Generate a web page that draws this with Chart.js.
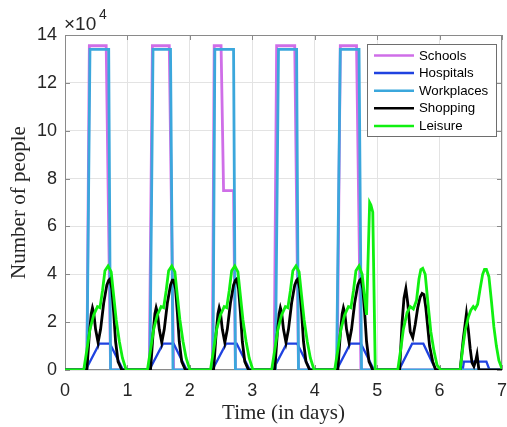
<!DOCTYPE html>
<html>
<head>
<meta charset="utf-8">
<script src="https://cdn.jsdelivr.net/npm/chart.js@4.4.1/dist/chart.umd.min.js"></script>
<style>
  body { margin: 0; background: #fff; }
  #wrap { width: 507px; height: 427px; }
</style>
</head>
<body>
<div id="wrap"><canvas id="chart" width="507" height="427"></canvas></div>
<script>
// time in days / number of people
const xTicks = [0, 1, 2, 3, 4, 5, 6, 7];
const yTicks = [0, 20000, 40000, 60000, 80000, 100000, 120000, 140000];

const schoolsT = [0, 0.35, 0.39, 0.66, 0.73,
  1.35, 1.40, 1.67, 1.74,
  2.36, 2.39, 2.50, 2.54, 2.70, 2.73,
  3.35, 3.39, 3.68, 3.74,
  4.36, 4.41, 4.67, 4.74, 7];
const schoolsN = [0, 0, 135500, 135500, 0,
  0, 135500, 135500, 0,
  0, 135500, 135500, 75000, 75000, 0,
  0, 135500, 135500, 0,
  0, 135500, 135500, 0, 0];

const hospitalsT = [0, 0.33, 0.55, 0.72, 0.93,
  1.35, 1.57, 1.74, 1.95,
  2.36, 2.58, 2.75, 2.96,
  3.33, 3.55, 3.72, 3.93,
  4.35, 4.57, 4.74, 4.95,
  5.35, 5.56, 5.74, 5.94,
  6.37, 6.39, 6.75, 6.80, 7];
const hospitalsN = [0, 0, 11000, 11000, 0,
  0, 11000, 11000, 0,
  0, 11000, 11000, 0,
  0, 11000, 11000, 0,
  0, 11000, 11000, 0,
  0, 11000, 11000, 0,
  0, 3500, 3500, 0, 0];

const workT = [0, 0.35, 0.40, 0.70, 0.73,
  1.36, 1.41, 1.69, 1.73,
  2.37, 2.40, 2.70, 2.73,
  3.37, 3.42, 3.71, 3.74,
  4.35, 4.41, 4.71, 4.75, 7];
const workN = [0, 0, 134000, 134000, 0,
  0, 134000, 134000, 0,
  0, 134000, 134000, 0,
  0, 134000, 134000, 0,
  0, 134000, 134000, 0, 0];

const shopT = [0,
  0.35, 0.39, 0.42, 0.44, 0.46, 0.49, 0.53, 0.57, 0.62, 0.67, 0.70, 0.72, 0.75, 0.78, 0.81, 0.85, 0.91,
  1.37, 1.41, 1.44, 1.46, 1.48, 1.51, 1.55, 1.59, 1.64, 1.69, 1.72, 1.74, 1.77, 1.80, 1.83, 1.87, 1.93,
  2.38, 2.42, 2.45, 2.47, 2.49, 2.52, 2.56, 2.60, 2.65, 2.70, 2.73, 2.75, 2.78, 2.81, 2.84, 2.88, 2.94,
  3.36, 3.40, 3.43, 3.45, 3.47, 3.50, 3.54, 3.58, 3.63, 3.68, 3.71, 3.73, 3.76, 3.79, 3.82, 3.86, 3.92,
  4.37, 4.41, 4.44, 4.46, 4.48, 4.51, 4.55, 4.59, 4.64, 4.69, 4.72, 4.74, 4.77, 4.80, 4.83, 4.87, 4.93,
  5.36, 5.40, 5.43, 5.46, 5.49, 5.53, 5.57, 5.61, 5.65, 5.69, 5.72, 5.75, 5.78, 5.81, 5.84, 5.89, 5.94,
  6.33, 6.38, 6.43, 6.46, 6.49, 6.52, 6.55, 6.58, 6.60, 6.63, 7];
const shopN = [0,
  0, 15000, 23500, 26000, 24000, 17000, 11500, 17000, 28000, 35500, 37500, 38000, 34000, 24000, 12000, 3500, 0,
  0, 15000, 23500, 26000, 24000, 17000, 11500, 17000, 28000, 35500, 37500, 37500, 34000, 24000, 12000, 3500, 0,
  0, 15000, 23500, 26000, 24000, 17000, 11500, 17000, 28000, 35500, 37500, 38000, 34000, 24000, 12000, 3500, 0,
  0, 15000, 23500, 26000, 24000, 17000, 11500, 17000, 28000, 35500, 37500, 38000, 34000, 24000, 12000, 3500, 0,
  0, 15000, 23500, 26000, 24000, 17000, 11500, 17000, 28000, 35500, 37500, 38000, 34000, 24000, 12000, 3500, 0,
  0, 20000, 30000, 34000, 28000, 16000, 13500, 19000, 26000, 30500, 32000, 31500, 26000, 18000, 10000, 3500, 0,
  0, 13000, 23500, 17000, 9000, 3000, 1500, 4000, 6500, 0, 0];

const leisureT = [0,
  0.30, 0.36, 0.40, 0.46, 0.52, 0.56, 0.60, 0.64, 0.69, 0.74, 0.78, 0.82, 0.87, 0.92, 0.98,
  1.32, 1.38, 1.42, 1.48, 1.54, 1.58, 1.62, 1.66, 1.71, 1.76, 1.80, 1.84, 1.89, 1.94, 2.00,
  2.33, 2.39, 2.43, 2.49, 2.55, 2.59, 2.63, 2.67, 2.72, 2.77, 2.81, 2.85, 2.90, 2.95, 3.01,
  3.31, 3.37, 3.41, 3.47, 3.53, 3.57, 3.61, 3.65, 3.70, 3.75, 3.79, 3.83, 3.88, 3.93, 3.99,
  4.32, 4.38, 4.42, 4.48, 4.54, 4.58, 4.62, 4.66, 4.71, 4.76, 4.80, 4.83, 4.88, 4.90, 4.93, 4.95, 4.97,
  5.33, 5.38, 5.42, 5.48, 5.53, 5.58, 5.63, 5.67, 5.70, 5.73, 5.77, 5.81, 5.86, 5.91, 5.96, 6.02,
  6.33, 6.37, 6.41, 6.46, 6.50, 6.54, 6.57, 6.61, 6.65, 6.69, 6.72, 6.75, 6.79, 6.83, 6.87, 6.91, 6.95, 7.0];
const leisureN = [0,
  0, 10000, 17000, 23000, 26500, 26000, 33000, 41500, 43500, 41000, 31000, 21000, 12000, 5000, 0,
  0, 10000, 17000, 23000, 26500, 26000, 33000, 41500, 43500, 41000, 31000, 21000, 12000, 5000, 0,
  0, 10000, 17000, 23000, 26500, 26000, 33000, 41500, 43500, 41000, 31000, 21000, 12000, 5000, 0,
  0, 10000, 17000, 23000, 26500, 26000, 33000, 41500, 43500, 41000, 31000, 21000, 12000, 5000, 0,
  0, 10000, 17000, 23000, 26500, 26000, 33000, 41500, 43500, 40000, 30000, 23000, 70000, 69000, 66000, 33000, 0,
  0, 9000, 17000, 24000, 26500, 25500, 29000, 38000, 42000, 42500, 40000, 29000, 16000, 8000, 2000, 0,
  0, 9000, 16500, 22000, 25000, 26500, 25500, 27500, 34000, 40000, 42000, 42000, 39000, 29000, 18000, 10000, 4000, 500];

const seriesNames = ['Schools', 'Hospitals', 'Workplaces', 'Shopping', 'Leisure'];
const seriesColors = ['#cf6ee8', '#1f42e0', '#3ba7dc', '#000000', '#10f010'];

function pts(ts, ns) {
  return ts.map((t, i) => ({ x: t, y: ns[i] }));
}

const serif = 'Liberation Serif, Times New Roman, serif';
const sans = 'Liberation Sans, Arial, sans-serif';

const matlabLook = {
  id: 'matlabLook',
  beforeDatasetsDraw(chart) {
    const { ctx, chartArea: a, scales: { x, y } } = chart;
    ctx.save();
    ctx.strokeStyle = '#8a8a8a';
    ctx.lineWidth = 1;
    ctx.strokeRect(a.left + 0.5, a.top + 0.5, a.right - a.left - 1, a.bottom - a.top - 1);
    ctx.beginPath();
    yTicks.forEach(v => {
      const py = Math.round(y.getPixelForValue(v)) + 0.5;
      ctx.moveTo(a.left, py); ctx.lineTo(a.left + 5, py);
      ctx.moveTo(a.right, py); ctx.lineTo(a.right - 5, py);
    });
    xTicks.forEach(v => {
      const px = Math.round(x.getPixelForValue(v)) + 0.5;
      ctx.moveTo(px, a.bottom); ctx.lineTo(px, a.bottom - 5);
      ctx.moveTo(px, a.top); ctx.lineTo(px, a.top + 5);
    });
    ctx.stroke();
    ctx.restore();
  },
  afterDraw(chart) {
    const { ctx, chartArea: a } = chart;
    ctx.save();
    ctx.fillStyle = '#262626';
    // exponent
    ctx.font = '19px ' + sans;
    ctx.textBaseline = 'alphabetic';
    ctx.textAlign = 'left';
    ctx.fillText('\u00d710', 64, 30);
    ctx.font = '14px ' + sans;
    ctx.fillText('4', 99, 19);
    // axis titles
    ctx.font = '21px ' + serif;
    ctx.textAlign = 'center';
    ctx.textBaseline = 'middle';
    ctx.fillText('Time (in days)', (a.left + a.right) / 2, 413);
    ctx.translate(19, (a.top + a.bottom) / 2);
    ctx.rotate(-Math.PI / 2);
    ctx.fillText('Number of people', 0, 0);
    ctx.restore();

    // legend box
    ctx.save();
    const lx = 367, ly = 44, lw = 129, lh = 92;
    ctx.fillStyle = '#fff';
    ctx.fillRect(lx, ly, lw, lh);
    ctx.strokeStyle = '#6e6e6e';
    ctx.lineWidth = 1;
    ctx.strokeRect(lx + 0.5, ly + 0.5, lw, lh);
    ctx.font = '13.3px ' + sans;
    ctx.textAlign = 'left';
    ctx.textBaseline = 'middle';
    seriesNames.forEach((name, i) => {
      const ry = 55.5 + i * 17.6;
      ctx.strokeStyle = seriesColors[i];
      ctx.lineWidth = 2.5;
      ctx.beginPath();
      ctx.moveTo(374, ry); ctx.lineTo(414, ry);
      ctx.stroke();
      ctx.fillStyle = '#000';
      ctx.fillText(name, 419, ry + 0.5);
    });
    ctx.restore();
  }
};

const tsList = [schoolsT, hospitalsT, workT, shopT, leisureT];
const nsList = [schoolsN, hospitalsN, workN, shopN, leisureN];

const datasets = seriesNames.map((name, i) => ({
  label: name,
  data: pts(tsList[i], nsList[i]),
  borderColor: seriesColors[i],
  borderWidth: i === 1 ? 2.3 : 2.8,
  pointRadius: 0,
  tension: 0,
  fill: false,
  order: 4 - i
}));

new Chart(document.getElementById('chart'), {
  type: 'line',
  data: { datasets },
  options: {
    responsive: false,
    animation: false,
    devicePixelRatio: 1,
    layout: { padding: { left: 0, top: 35, right: 5, bottom: 0 } },
    plugins: { legend: { display: false }, tooltip: { enabled: false } },
    scales: {
      x: {
        type: 'linear',
        min: 0, max: 7,
        afterBuildTicks: s => { s.ticks = xTicks.map(v => ({ value: v })); },
        afterFit: s => { s.height = 57; s.paddingLeft = 0; s.paddingRight = 0; },
        grid: { color: '#e3e3e3', drawTicks: false },
        border: { display: false },
        ticks: { color: '#262626', padding: 10, font: { family: sans, size: 18 } }
      },
      y: {
        type: 'linear',
        min: 0, max: 140000,
        afterBuildTicks: s => { s.ticks = yTicks.map(v => ({ value: v })); },
        afterFit: s => { s.width = 65; s.paddingTop = 0; s.paddingBottom = 0; },
        grid: { color: '#e3e3e3', drawTicks: false },
        border: { display: false },
        ticks: {
          color: '#262626', padding: 8, font: { family: sans, size: 18 },
          callback: v => v / 10000
        }
      }
    }
  },
  plugins: [matlabLook]
});
</script>
</body>
</html>
